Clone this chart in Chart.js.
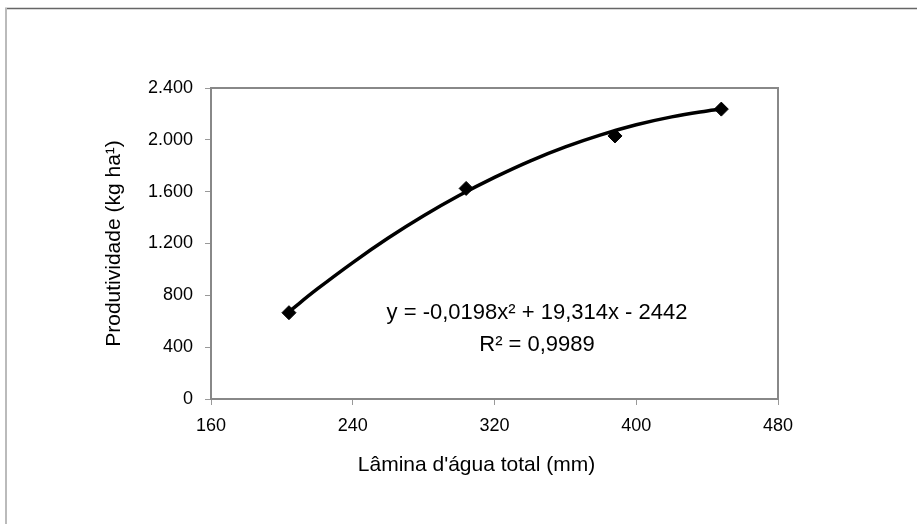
<!DOCTYPE html>
<html>
<head>
<meta charset="utf-8">
<script src="https://cdn.jsdelivr.net/npm/chart.js@4"></script>
<style>
  html,body{margin:0;padding:0;background:#fff;}
  #wrap{width:917px;height:524px;position:relative;}
</style>
</head>
<body>
<div id="wrap"><canvas id="chart" width="917" height="524"></canvas></div>
<script>
// observed points
const xObs = [204, 304, 388, 448];
const yObs = [666, 1625, 2030, 2237];
// trend curve
const xFit = [204, 220, 240, 260, 280, 300, 320, 340, 360, 380, 400, 420, 440, 448];
const yFit = [674, 849, 1053, 1242, 1414, 1570, 1710, 1836, 1945, 2038, 2116, 2177, 2223, 2237];
// axes
const xTicks = [160, 240, 320, 400, 480];
const yTicks = [0, 400, 800, 1200, 1600, 2000, 2400];
const xTitle = "Lâmina d'água total (mm)";
const yTitle = 'Produtividade (kg ha¹)';
const eqLine = 'y = -0,0198x² + 19,314x - 2442';
const r2Line = 'R² = 0,9989';

const FONT = '"Liberation Sans", Arial, sans-serif';
const fmtThousand = v => String(v).replace(/\B(?=(\d{3})+(?!\d))/g,'.');

const frame = {
  id:'frame',
  beforeDraw(chart){
    const c = chart.ctx;
    c.save();
    c.fillStyle = '#fff';
    c.fillRect(0,0,chart.width,chart.height);
    c.strokeStyle = '#666'; c.lineWidth = 1.5;
    c.beginPath(); c.moveTo(5,8.5); c.lineTo(chart.width,8.5); c.stroke();
    c.strokeStyle = '#bbb'; c.lineWidth = 2;
    c.beginPath(); c.moveTo(6,8); c.lineTo(6,chart.height); c.stroke();
    c.restore();
  },
  afterDraw(chart){
    const c = chart.ctx, a = chart.chartArea;
    const sx = chart.scales.x, sy = chart.scales.y;
    c.save();
    // plot border
    c.strokeStyle = '#888'; c.lineWidth = 2;
    c.strokeRect(a.left, a.top, a.right-a.left, a.bottom-a.top);
    c.fillStyle = '#000';
    c.textAlign = 'center'; c.textBaseline = 'middle';
    // axis titles
    c.font = '21px ' + FONT;
    c.fillText(xTitle, (a.left+a.right)/2 - 18, 465);
    c.save();
    c.translate(114, (a.top+a.bottom)/2);
    c.rotate(-Math.PI/2);
    c.fillText(yTitle, 0, 0);
    c.restore();
    // equation
    c.font = '22px ' + FONT;
    c.fillText(eqLine, sx.getPixelForValue(344), sy.getPixelForValue(664));
    c.fillText(r2Line, sx.getPixelForValue(344), sy.getPixelForValue(417));
    c.restore();
  }
};

new Chart(document.getElementById('chart'),{
  type:'scatter',
  data:{
    datasets:[
      {
        label:'Tendência',
        data:xFit.map((x,i)=>({x, y:yFit[i]})),
        showLine:true, borderColor:'#000', borderWidth:3.5,
        pointRadius:0, tension:0.4, fill:false, order:2
      },
      {
        label:'Observado',
        data:xObs.map((x,i)=>({x, y:yObs[i]})),
        pointStyle:'rectRot', pointRadius:7,
        backgroundColor:'#000', borderColor:'#000', order:1
      }
    ]
  },
  options:{
    responsive:false, animation:false,
    layout:{padding:{left:0, top:88, right:139, bottom:0}},
    plugins:{legend:{display:false}, tooltip:{enabled:false}},
    scales:{
      x:{
        type:'linear', min:160, max:480,
        afterBuildTicks:s=>{ s.ticks = xTicks.map(v=>({value:v})); },
        afterFit:s=>{ s.height = 125; },
        grid:{drawOnChartArea:false, drawTicks:true, tickLength:6, color:'#999'},
        border:{display:false},
        ticks:{color:'#000', font:{family:FONT, size:18}, padding:10, maxRotation:0}
      },
      y:{
        type:'linear', min:0, max:2400,
        afterBuildTicks:s=>{ s.ticks = yTicks.map(v=>({value:v})); },
        afterFit:s=>{ s.width = 211; },
        grid:{drawOnChartArea:false, drawTicks:true, tickLength:6, color:'#999'},
        border:{display:false},
        ticks:{color:'#000', font:{family:FONT, size:18}, padding:12, callback:v=>fmtThousand(v)}
      }
    }
  },
  plugins:[frame]
});
</script>
</body>
</html>
